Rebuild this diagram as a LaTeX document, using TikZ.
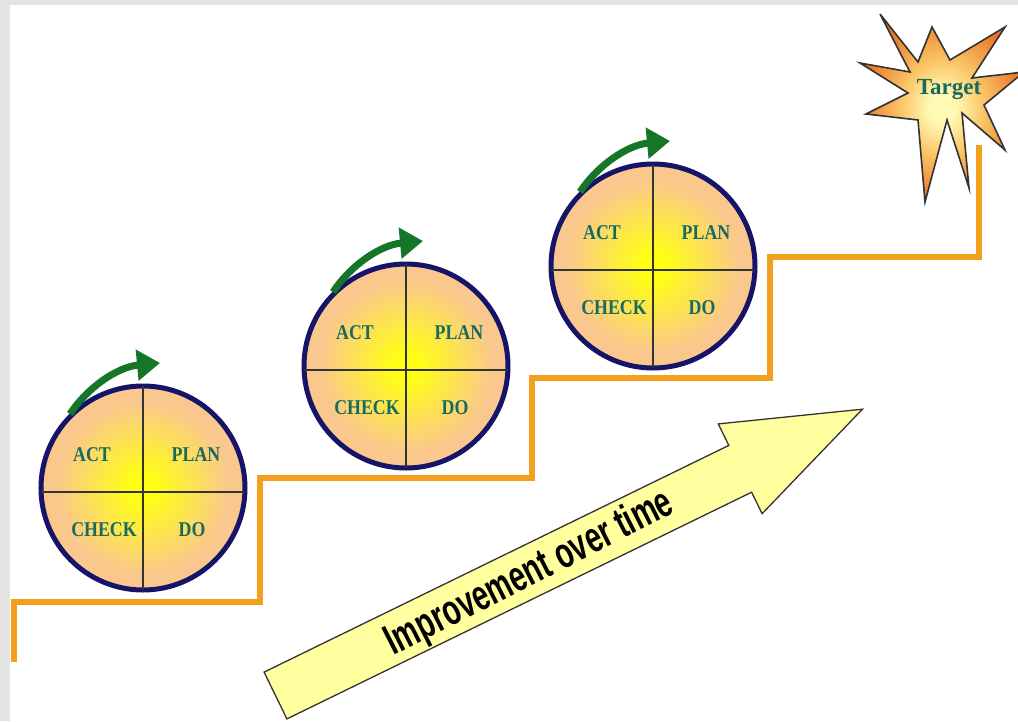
\documentclass[tikz,border=0pt]{standalone}
\usepackage{fontspec}
\usepackage{graphicx}
\setmainfont{Liberation Serif}
\newfontfamily\bannerfont{Liberation Sans}
\usetikzlibrary{arrows.meta,calc}

\definecolor{framegray}{RGB}{228,228,228}
\definecolor{stairorange}{RGB}{242,160,30}
\definecolor{rimnavy}{RGB}{22,20,105}
\definecolor{peach}{RGB}{250,200,140}
\definecolor{glowyellow}{RGB}{255,255,20}
\definecolor{cyclegreen}{RGB}{22,118,40}
\definecolor{labelteal}{RGB}{25,105,95}
\definecolor{bannerfill}{RGB}{255,255,160}
\definecolor{starlight}{RGB}{255,250,180}
\definecolor{starmid}{RGB}{250,195,100}
\definecolor{stardeep}{RGB}{232,118,38}

\pgfdeclareradialshading{pdcaglow}{\pgfpoint{0bp}{0bp}}{%
  color(0bp)=(glowyellow); color(3bp)=(glowyellow);
  color(21bp)=(peach); color(50bp)=(peach)}
\pgfdeclareradialshading{starglow}{\pgfpoint{0bp}{0bp}}{%
  color(0bp)=(starlight); color(4bp)=(starlight);
  color(13bp)=(starmid); color(25bp)=(stardeep); color(50bp)=(stardeep)}

\newcommand{\squeeze}[2]{\scalebox{#1}[1]{#2}}

\begin{document}
\begin{tikzpicture}[x=1pt,y=-1pt,
  stairs/.style={draw=stairorange, line width=6pt, line join=miter},
  pdca/.style={circle, minimum size=204pt, inner sep=0pt, outer sep=0pt,
    shade, shading=pdcaglow, draw=rimnavy, line width=5pt},
  divider/.style={draw=black!80, line width=1.4pt},
  quadlabel/.style={anchor=base, inner sep=0pt, text=labelteal,
    font=\fontsize{21}{21}\selectfont\bfseries},
  cyclearrow/.style={draw=cyclegreen, line width=7pt,
    -{Triangle[length=23pt,width=30pt]}},
  bigarrow/.style={fill=bannerfill, draw=black!80, line width=1.3pt, line join=miter},
  bannertext/.style={anchor=base, inner sep=0pt, text=black,
    font=\bannerfont\fontsize{43}{43}\selectfont\bfseries},
  burst/.style={shade, shading=starglow, draw=black!80, line width=1.6pt, line join=miter},
  targetlabel/.style={anchor=base, inner sep=0pt, text=labelteal,
    font=\fontsize{23}{23}\selectfont\bfseries}]

% frame and canvas
\useasboundingbox (0,0) rectangle (1018,721);
\fill[framegray] (0,0) rectangle (1018,721);
\fill[white] (10,5) rectangle (1018,721);

% staircase
\coordinate (s0) at (14,662);
\coordinate (s1) at (14,602);
\coordinate (s2) at (260,602);
\coordinate (s3) at (260,478);
\coordinate (s4) at (532,478);
\coordinate (s5) at (532,378);
\coordinate (s6) at (770,378);
\coordinate (s7) at (770,257);
\coordinate (s8) at (979,257);
\coordinate (s9) at (979,145);
\draw[stairs] (s0) -- (s1) -- (s2) -- (s3) -- (s4) -- (s5) -- (s6) -- (s7) -- (s8) -- (s9);

% PDCA wheels with their turning arrows
\foreach \n/\cx/\cy in {1/143/488, 2/406/366, 3/653/266}{
  \node[pdca] (c\n) at (\cx,\cy) {};
  \draw[divider] (c\n.north) -- (c\n.south);
  \draw[divider] ([yshift=-4pt]c\n.west) -- ([yshift=-4pt]c\n.east);
  \node[quadlabel] (act\n)   at ($(c\n.center)+(-51,-27)$) {\squeeze{0.85}{ACT}};
  \node[quadlabel] (plan\n)  at ($(c\n.center)+(53,-27)$)  {\squeeze{0.85}{PLAN}};
  \node[quadlabel] (check\n) at ($(c\n.center)+(-39,48)$)  {\squeeze{0.85}{CHECK}};
  \node[quadlabel] (do\n)    at ($(c\n.center)+(49,48)$)   {\squeeze{0.85}{DO}};
  \draw[cyclearrow] ($(c\n.center)+(-73,-74)$)
    .. controls ($(c\n.center)+(-56,-100)$) and ($(c\n.center)+(-26,-121)$)
    .. ($(c\n.center)+(17,-125)$);
}

% improvement arrow
\coordinate (a1) at (264.1,672.1);
\coordinate (a2) at (728.8,445.4);
\coordinate (a3) at (718.3,423.9);
\coordinate (a4) at (862.4,409.2);
\coordinate (a5) at (762.1,513.7);
\coordinate (a6) at (751.6,492.2);
\coordinate (a7) at (286.9,718.9);
\filldraw[bigarrow] (a1) -- (a2) -- (a3) -- (a4) -- (a5) -- (a6) -- (a7) -- cycle;
\node[bannertext, rotate=27] (trend) at (535,584)
  {\squeeze{0.67}{Improvement over time}};

% target burst
\path[burst] (880,14) -- (918,62) -- (932,27) -- (950,60) -- (1005,27)
  -- (972,78) -- (1024,72) -- (984,105) -- (1005,150) -- (962,113)
  -- (969,188) -- (947,120) -- (925,202) -- (918,120) -- (866,114)
  -- (908,93) -- (860,63) -- (910,72) -- cycle;
\node[targetlabel] (target) at (949,94) {Target};

\end{tikzpicture}
\end{document}
